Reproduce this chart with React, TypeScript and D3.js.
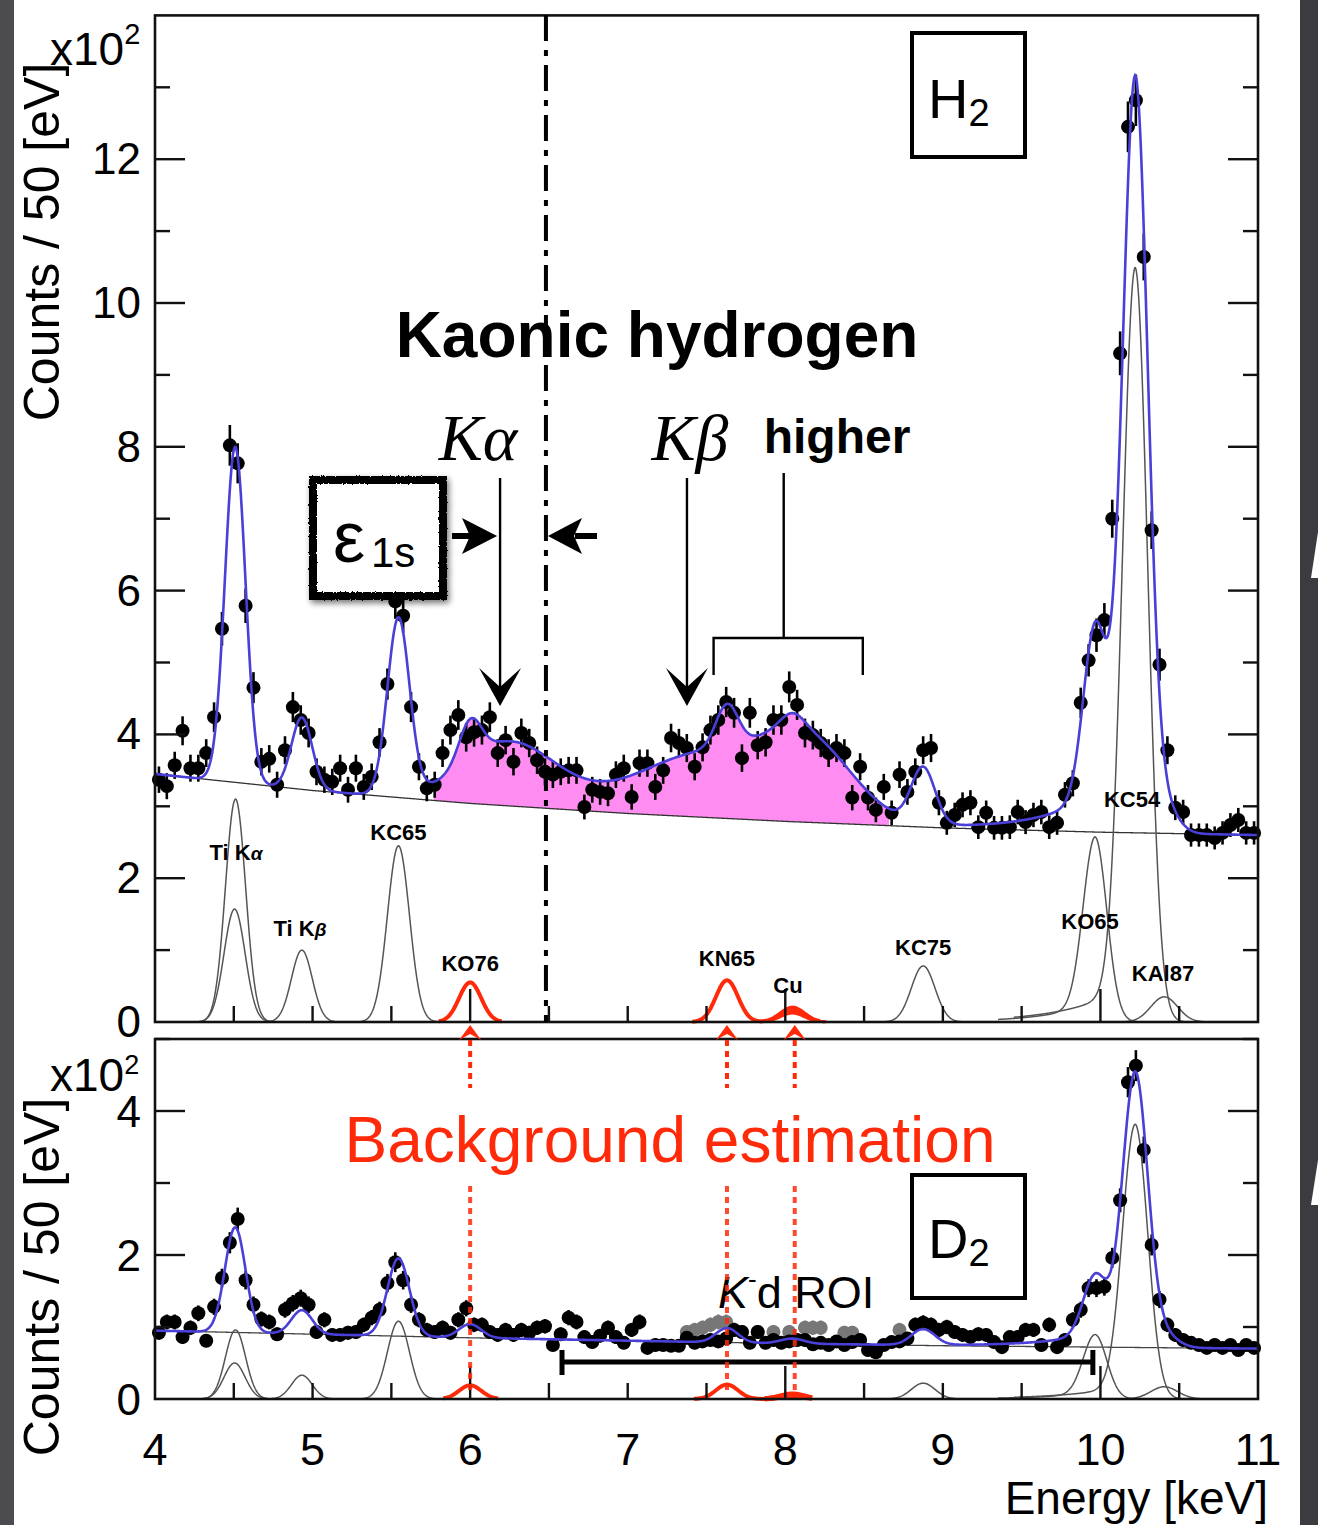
import React from 'react';
import * as d3 from 'd3';

// ---------- energy binning (50 eV bins, centres in keV) ----------
const binStart = 4.025;
const binWidth = 0.05;

// ---------- H2 spectrum: counts per bin, in units of 10^2 ----------
const h2Counts = [
  3.37, 3.28, 3.57, 4.05, 3.53, 3.53, 3.74, 4.24, 5.47, 8.02,
  7.77, 5.79, 4.65, 3.62, 3.66, 3.30, 3.78, 4.38, 4.20, 4.02,
  3.48, 3.37, 3.34, 3.53, 3.23, 3.53, 3.27, 3.41, 3.89, 4.70,
  5.85, 5.65, 4.38, 3.55, 3.25, 3.30, 3.74, 4.06, 4.27, 3.96,
  4.03, 4.06, 4.24, 3.74, 3.92, 3.62, 4.02, 3.88, 3.64, 3.48,
  3.44, 3.48, 3.50, 3.50, 2.99, 3.23, 3.20, 3.18, 3.44, 3.53,
  3.13, 3.60, 3.60, 3.27, 3.50, 3.95, 3.88, 3.81, 3.55, 3.82,
  4.06, 4.20, 4.45, 4.30, 3.67, 4.30, 3.85, 3.89, 4.20, 4.20,
  4.66, 4.41, 4.02, 3.99, 3.88, 3.74, 3.81, 3.74, 3.12, 3.55,
  3.12, 2.95, 3.27, 2.91, 3.44, 3.20, 3.48, 3.78, 3.81, 3.05,
  2.77, 2.88, 3.02, 3.05, 2.71, 2.91, 2.70, 2.70, 2.71, 2.92,
  2.78, 2.88, 2.92, 2.71, 2.77, 3.16, 3.32, 4.44, 5.03, 5.38,
  5.59, 7.00, 9.30, 12.45, 12.82, 10.64, 6.84, 4.97, 3.78, 2.98,
  2.92, 2.60, 2.60, 2.60, 2.56, 2.63, 2.74, 2.81, 2.63, 2.63,
];

// ---------- D2 spectrum ----------
const d2Counts = [
  0.92, 1.07, 1.07, 0.86, 0.99, 1.19, 0.81, 1.28, 1.68, 2.17,
  2.50, 1.65, 1.31, 1.11, 1.07, 0.90, 1.24, 1.33, 1.40, 1.31,
  0.93, 1.10, 0.89, 0.89, 0.92, 0.93, 1.03, 1.13, 1.24, 1.61,
  1.90, 1.65, 1.31, 1.10, 0.96, 0.93, 0.99, 0.92, 1.10, 1.26,
  1.03, 1.03, 0.93, 0.89, 0.96, 0.89, 0.96, 0.92, 0.99, 1.01,
  0.75, 0.90, 1.13, 1.07, 0.86, 0.79, 0.88, 0.99, 0.86, 0.78,
  0.96, 1.07, 0.71, 0.75, 0.75, 0.74, 0.74, 0.85, 0.78, 0.80,
  0.82, 0.80, 0.84, 0.96, 0.93, 0.78, 0.93, 0.78, 0.82, 0.78,
  0.80, 0.82, 0.82, 0.76, 0.78, 0.75, 0.80, 0.75, 0.79, 0.82,
  0.68, 0.65, 0.75, 0.79, 0.80, 0.84, 1.03, 1.06, 1.03, 0.96,
  1.00, 0.93, 0.89, 0.86, 0.90, 0.89, 0.79, 0.72, 0.86, 0.86,
  0.96, 0.96, 0.75, 1.03, 0.72, 0.82, 1.10, 1.24, 1.54, 1.54,
  1.56, 1.96, 2.76, 4.40, 4.63, 3.46, 2.14, 1.38, 1.03, 0.89,
  0.82, 0.78, 0.75, 0.71, 0.75, 0.71, 0.75, 0.68, 0.75, 0.71,
];

// second (grey) D2 sample inside the K-d region
const d2GreyBins = [67, 68, 69, 70, 71, 72, 73, 74, 76, 78, 80, 82, 83, 84, 87, 88, 94];
const d2GreyCounts = [0.93, 0.96, 0.99, 1.03, 1.07, 1.07, 0.96, 0.93, 0.93, 0.93, 0.93, 0.99, 0.99, 0.99, 0.92, 0.92, 0.96];

// ---------- continuum background (knots) ----------
const bgEnergy = [4, 5, 6, 7, 8, 9, 10, 11];
const h2Background = [3.45, 3.22, 3.04, 2.9, 2.79, 2.7, 2.64, 2.6];
const d2Background = [0.95, 0.9, 0.85, 0.81, 0.77, 0.74, 0.72, 0.7];

// ---------- X-ray lines in the fit ----------
const lineNames = ['TiKa1', 'TiKa2', 'TiKb', 'KC65', 'KO76', 'KN65', 'Cu', 'KC75', 'KO65', 'KC54', 'KAl87'];
const lineCenters = [4.511, 4.505, 4.932, 5.545, 6.0, 7.63, 8.045, 8.875, 9.965, 10.22, 10.405];
const lineSigmas = [0.064, 0.067, 0.066, 0.07, 0.07, 0.07, 0.075, 0.075, 0.075, 0.08, 0.085];
const lineTailRatio = [0, 0, 0, 0, 0, 0, 0, 0, 0.12, 0.06, 0];
const lineTailSlope = [1, 1, 1, 1, 1, 1, 1, 1, 0.3, 0.35, 1];
const h2Heights = [3.1, 1.57, 1.0, 2.45, 0.55, 0.58, 0.2, 0.78, 2.3, 9.9, 0.35];
const d2Heights = [0.96, 0.5, 0.33, 1.08, 0.19, 0.2, 0.07, 0.22, 0.8, 3.6, 0.17];
const lineLo = [4.08, 4.08, 4.55, 5.15, 5.8, 7.41, 7.84, 8.5, 9.35, 9.45, 9.95];
const lineHi = [4.95, 4.95, 5.35, 5.95, 6.2, 8.22, 8.26, 9.25, 10.45, 10.78, 10.85];
const redLines = ['KO76', 'KN65', 'Cu'];

// ---------- kaonic hydrogen signal (Kα, Kβ, higher) ----------
const khCenters = [6.25, 7.5, 8.15];
const khHeights = [0.88, 0.88, 0.95];
const khSigmas = [0.3, 0.45, 0.28];

// ---------- axis ticks ----------
const xTickLabels = [4, 5, 6, 7, 8, 9, 10, 11];
const h2TickLabels = [0, 2, 4, 6, 8, 10, 12];
const d2TickLabels = [0, 2, 4];

const FONT = "'Liberation Sans', Arial, Helvetica, sans-serif";
const SERIF = "'Liberation Serif', 'Times New Roman', serif";
const RED = '#ff2a0a';
const BLUE = '#4a3fd6';

function lineValue(k: number, heights: number[], e: number) {
  const d = e - lineCenters[k];
  const s = lineSigmas[k];
  const g = Math.exp(-0.5 * (d / s) ** 2);
  let tail = 0;
  if (lineTailRatio[k] > 0) {
    tail = lineTailRatio[k] * heights[k] * (d < 0 ? Math.exp(d / lineTailSlope[k]) : g);
  }
  return heights[k] * g + tail;
}

export default function App() {
  const x = d3.scaleLinear().domain([4, 11]).range([155, 1258]);
  const yT = d3.scaleLinear().domain([0, 14]).range([1022, 15.4]);
  const yB = d3.scaleLinear().domain([0, 5]).range([1399, 1039]);

  const bgT = d3.scaleLinear().domain(bgEnergy).range(h2Background);
  const bgB = d3.scaleLinear().domain(bgEnergy).range(d2Background);

  const grid = d3.range(4, 11.0001, 0.004);

  const signal = (e: number) =>
    d3.sum(khCenters, (c, i) => khHeights[i] * Math.exp(-0.5 * ((e - c) / khSigmas[i]) ** 2));
  const fitT = (e: number) => bgT(e) + d3.sum(lineNames, (_, k) => lineValue(k, h2Heights, e)) + signal(e);
  const fitB = (e: number) => bgB(e) + d3.sum(lineNames, (_, k) => lineValue(k, d2Heights, e));

  const lineT = d3.line<[number, number]>().x((d) => x(d[0])).y((d) => yT(d[1]));
  const lineB = d3.line<[number, number]>().x((d) => x(d[0])).y((d) => yB(d[1]));

  const comp = (k: number, heights: number[], scale = 1, lo = lineLo[k], hi = lineHi[k]) =>
    d3.range(lo, hi + 1e-9, 0.004).map((e) => [e, scale * lineValue(k, heights, e)] as [number, number]);

  const magenta = d3
    .area<number>()
    .x((e) => x(e))
    .y0((e) => yT(bgT(e)))
    .y1((e) => yT(fitT(e)));
  const magentaGrid = d3.range(5.77, 8.66, 0.004);

  const greyIdx = lineNames.map((_, k) => k).filter((k) => !redLines.includes(lineNames[k]));
  const kKO76 = lineNames.indexOf('KO76');
  const kKN65 = lineNames.indexOf('KN65');
  const kCu = lineNames.indexOf('Cu');

  const knCu = (heights: number[], lo: number, hi: number) =>
    d3.range(lo, hi + 1e-9, 0.004).map((e) => [e, lineValue(kKN65, heights, e) + lineValue(kCu, heights, e)] as [number, number]);

  // axes ----------------------------------------------------------
  const xTicks = d3.range(4.5, 10.51, 0.5);
  const isMajorX = (v: number) => Math.abs(v / 2 - Math.round(v / 2)) < 1e-6;

  const frame = (y0: number, y1: number) => (
    <rect x={x(4)} y={y0} width={x(11) - x(4)} height={y1 - y0} fill="none" stroke="#111" strokeWidth={2.6} />
  );

  const xTickMarks = (yAxis: number) =>
    xTicks.map((v) => (
      <line key={v} x1={x(v)} x2={x(v)} y1={yAxis} y2={yAxis - (isMajorX(v) ? 33 : 16)} stroke="#111" strokeWidth={2.4} />
    ));

  const yTickMarks = (scale: d3.ScaleLinear<number, number>, vals: number[]) =>
    vals.map((v) => {
      const len = v % 2 === 0 ? 30 : 15;
      return (
        <g key={v}>
          <line x1={x(4)} x2={x(4) + len} y1={scale(v)} y2={scale(v)} stroke="#111" strokeWidth={2.4} />
          <line x1={x(11)} x2={x(11) - len} y1={scale(v)} y2={scale(v)} stroke="#111" strokeWidth={2.4} />
        </g>
      );
    });

  const points = (counts: number[], scale: d3.ScaleLinear<number, number>, color = '#000', idx?: number[]) =>
    counts.map((v, j) => {
      const i = idx ? idx[j] : j;
      const e = binStart + i * binWidth;
      const err = Math.sqrt(v * 100) / 100;
      return (
        <g key={i}>
          <line x1={x(e)} x2={x(e)} y1={scale(v - err)} y2={scale(v + err)} stroke={color} strokeWidth={2.6} />
          <circle cx={x(e)} cy={scale(v)} r={7} fill={color} />
        </g>
      );
    });

  const chevronUp = (cx: number, tipY: number) =>
    `M${cx},${tipY} L${cx + 11},${tipY + 15} L${cx},${tipY + 9} L${cx - 11},${tipY + 15} Z`;
  const chevronDown = (cx: number, tipY: number) =>
    `M${cx},${tipY} L${cx - 21},${tipY - 38} L${cx},${tipY - 19} L${cx + 21},${tipY - 38} Z`;

  const eKa = 6.19;
  const eKb = 7.376;
  const eEM = 6.481;
  const redArrowE = [6.0, 7.63, 8.06];

  return (
    <svg width={1318} height={1525} style={{ position: 'absolute', left: 0, top: 0, background: '#fff' }} fontFamily={FONT}>
      <defs>
        <filter id="boxShadow" x="-20%" y="-20%" width="140%" height="140%">
          <feGaussianBlur in="SourceAlpha" stdDeviation="3" result="b" />
          <feOffset dx="2" dy="3" result="o" />
          <feComponentTransfer in="o" result="s">
            <feFuncA type="linear" slope="0.55" />
          </feComponentTransfer>
          <feMerge>
            <feMergeNode in="s" />
            <feMergeNode in="SourceGraphic" />
          </feMerge>
        </filter>
        <filter id="rough">
          <feTurbulence type="fractalNoise" baseFrequency="0.6" numOctaves="2" result="n" />
          <feDisplacementMap in="SourceGraphic" in2="n" scale="3" />
        </filter>
      </defs>

      <rect x={0} y={0} width={1318} height={1525} fill="#fff" />
      <rect x={0} y={0} width={14} height={1525} fill="#4b4b50" />
      <rect x={1300} y={0} width={18} height={1525} fill="#3b3b40" />
      <path d="M1311,578 L1318,532 L1318,578 Z" fill="#fff" />
      <path d="M1311,1205 L1318,1160 L1318,1205 Z" fill="#fff" />

      {/* ================= H2 panel ================= */}
      <path d={magenta(magentaGrid) ?? ''} fill="#ff8cf0" />
      <path d={lineT(grid.map((e) => [e, bgT(e)])) ?? ''} fill="none" stroke="#333" strokeWidth={1.3} />
      {greyIdx.map((k) => (
        <path key={k} d={lineT(comp(k, h2Heights)) ?? ''} fill="none" stroke="#555" strokeWidth={1.5} />
      ))}
      <path d={lineT(comp(kKO76, h2Heights)) ?? ''} fill="none" stroke={RED} strokeWidth={4} />
      <path d={lineT(knCu(h2Heights, 7.41, 8.22)) ?? ''} fill="none" stroke={RED} strokeWidth={4} />
      <path d={lineT(comp(kCu, h2Heights, 0.8, 7.84, 8.25)) ?? ''} fill="none" stroke={RED} strokeWidth={3} />
      <path d={lineT(comp(kCu, h2Heights, 0.62, 7.86, 8.26)) ?? ''} fill="none" stroke={RED} strokeWidth={3} />
      {points(h2Counts, yT)}
      <path d={lineT(grid.map((e) => [e, fitT(e)])) ?? ''} fill="none" stroke={BLUE} strokeWidth={2.6} />

      {frame(15.4, 1022)}
      {xTickMarks(1022)}
      {yTickMarks(yT, d3.range(1, 14))}

      {/* em-value reference line */}
      <line x1={x(eEM)} x2={x(eEM)} y1={15} y2={1022} stroke="#000" strokeWidth={4} strokeDasharray="26 9 6 9" />

      {/* line labels */}
      <g fontWeight="bold" fontSize={22} textAnchor="middle">
        <text x={236} y={860}>Ti K<tspan fontStyle="italic" fontSize={19}>α</tspan></text>
        <text x={300} y={936}>Ti K<tspan fontStyle="italic" fontSize={19}>β</tspan></text>
        <text x={x(5.545)} y={840}>KC65</text>
        <text x={x(6.0)} y={971}>KO76</text>
        <text x={x(7.63)} y={966}>KN65</text>
        <text x={788} y={993}>Cu</text>
        <text x={x(8.875)} y={955}>KC75</text>
        <text x={1090} y={929}>KO65</text>
        <text x={1132} y={807}>KC54</text>
        <text x={1163} y={981}>KAl87</text>
      </g>

      {/* title and transition markers */}
      <text x={657} y={357} fontSize={64} fontWeight="bold" textAnchor="middle">Kaonic hydrogen</text>
      <text x={478} y={460} fontFamily={SERIF} fontStyle="italic" fontSize={66} textAnchor="middle">Kα</text>
      <text x={690} y={460} fontFamily={SERIF} fontStyle="italic" fontSize={66} textAnchor="middle">Kβ</text>
      <text x={837} y={453} fontSize={48} fontWeight="bold" textAnchor="middle">higher</text>

      <line x1={x(eKa)} x2={x(eKa)} y1={478} y2={690} stroke="#000" strokeWidth={2.4} />
      <path d={chevronDown(x(eKa), 706)} fill="#000" />
      <line x1={x(eKb)} x2={x(eKb)} y1={478} y2={690} stroke="#000" strokeWidth={2.4} />
      <path d={chevronDown(x(eKb), 706)} fill="#000" />

      <g stroke="#000" strokeWidth={2.4} fill="none">
        <line x1={x(7.99)} x2={x(7.99)} y1={473} y2={638} />
        <polyline points={`${x(7.545)},675 ${x(7.545)},638 ${x(8.492)},638 ${x(8.492)},675`} />
      </g>

      {/* shift arrows */}
      <line x1={452} x2={472} y1={536} y2={536} stroke="#000" strokeWidth={6} />
      <path d={`M${x(eKa) - 3},536 L462,518 L470,536 L462,554 Z`} fill="#000" />
      <line x1={597} x2={575} y1={536} y2={536} stroke="#000" strokeWidth={6} />
      <path d={`M${x(eEM) + 2},536 L582,518 L574,536 L582,554 Z`} fill="#000" />

      {/* ε1s box */}
      <g filter="url(#boxShadow)">
        <rect x={313} y={480} width={130} height={116} fill="#fff" stroke="#000" strokeWidth={8} filter="url(#rough)" />
      </g>
      <text x={333} y={562} fontSize={72}>ε</text>
      <text x={371} y={567} fontSize={42}>1s</text>

      {/* H2 tag */}
      <rect x={912} y={33} width={113} height={124} fill="#fff" stroke="#000" strokeWidth={4} />
      <text x={928} y={118} fontSize={56}>H<tspan fontSize={38} dy={8}>2</tspan></text>

      {/* ================= D2 panel ================= */}
      <path d={lineB(grid.map((e) => [e, bgB(e)])) ?? ''} fill="none" stroke="#444" strokeWidth={1.3} />
      {greyIdx.map((k) => (
        <path key={k} d={lineB(comp(k, d2Heights)) ?? ''} fill="none" stroke="#555" strokeWidth={1.5} />
      ))}
      <path d={lineB(comp(kKO76, d2Heights, 1, 5.83, 6.18)) ?? ''} fill="none" stroke={RED} strokeWidth={4} />
      <path d={lineB(comp(kKN65, d2Heights, 1, 7.42, 7.9)) ?? ''} fill="none" stroke={RED} strokeWidth={4} />
      {[1, 0.8, 0.6].map((s) => (
        <path key={s} d={lineB(comp(kCu, d2Heights, s, 7.87, 8.17)) ?? ''} fill="none" stroke={RED} strokeWidth={5} />
      ))}

      {points(d2GreyCounts, yB, '#777', d2GreyBins)}
      {points(d2Counts, yB)}
      <path d={lineB(grid.map((e) => [e, fitB(e)])) ?? ''} fill="none" stroke={BLUE} strokeWidth={2.6} />

      {frame(1039, 1399)}
      {xTickMarks(1399)}
      {yTickMarks(yB, d3.range(1, 6))}

      {/* K-d region of interest */}
      <line x1={x(6.583)} x2={x(9.952)} y1={1362} y2={1362} stroke="#000" strokeWidth={5} />
      <line x1={x(6.583)} x2={x(6.583)} y1={1350} y2={1375} stroke="#000" strokeWidth={5} />
      <line x1={x(9.952)} x2={x(9.952)} y1={1350} y2={1375} stroke="#000" strokeWidth={5} />
      <text x={718} y={1308} fontSize={45}>
        <tspan fontStyle="italic">K</tspan>
        <tspan fontSize={26} dy={-20}>-</tspan>
        <tspan dy={20}>d ROI</tspan>
      </text>

      <rect x={912} y={1175} width={113} height={123} fill="#fff" stroke="#000" strokeWidth={4} />
      <text x={928} y={1258} fontSize={56}>D<tspan fontSize={38} dy={8}>2</tspan></text>

      {/* background-estimation markers */}
      {redArrowE.map((e) => (
        <g key={e}>
          <line x1={x(e)} x2={x(e)} y1={1040} y2={1088} stroke={RED} strokeWidth={4} strokeDasharray="6 5" />
          <line x1={x(e)} x2={x(e)} y1={1186} y2={1392} stroke={RED} strokeWidth={4} strokeDasharray="6 5" opacity={0.85} />
          <path d={chevronUp(x(e), 1025)} fill={RED} />
        </g>
      ))}
      <text x={670} y={1162} fontSize={64} fill={RED} textAnchor="middle">Background estimation</text>

      {/* ================= axis labels ================= */}
      <g fontSize={44} textAnchor="end">
        {h2TickLabels.map((v) => (
          <text key={v} x={141} y={yT(v)} dy="0.34em">{v}</text>
        ))}
        {d2TickLabels.map((v) => (
          <text key={v} x={141} y={yB(v)} dy="0.36em">{v}</text>
        ))}
      </g>
      <text x={50} y={65} fontSize={46}>x10<tspan fontSize={29} dy={-21}>2</tspan></text>
      <text x={50} y={1091} fontSize={46}>x10<tspan fontSize={27} dy={-17}>2</tspan></text>
      <text transform="translate(59,242) rotate(-90)" fontSize={50} textAnchor="middle">Counts / 50 [eV]</text>
      <text transform="translate(59,1277) rotate(-90)" fontSize={50} textAnchor="middle">Counts / 50 [eV]</text>

      <g fontSize={45} textAnchor="middle">
        {xTickLabels.map((v) => (
          <text key={v} x={x(v)} y={1465}>{v}</text>
        ))}
      </g>
      <text x={1268} y={1514} fontSize={46} textAnchor="end">Energy [keV]</text>
    </svg>
  );
}
